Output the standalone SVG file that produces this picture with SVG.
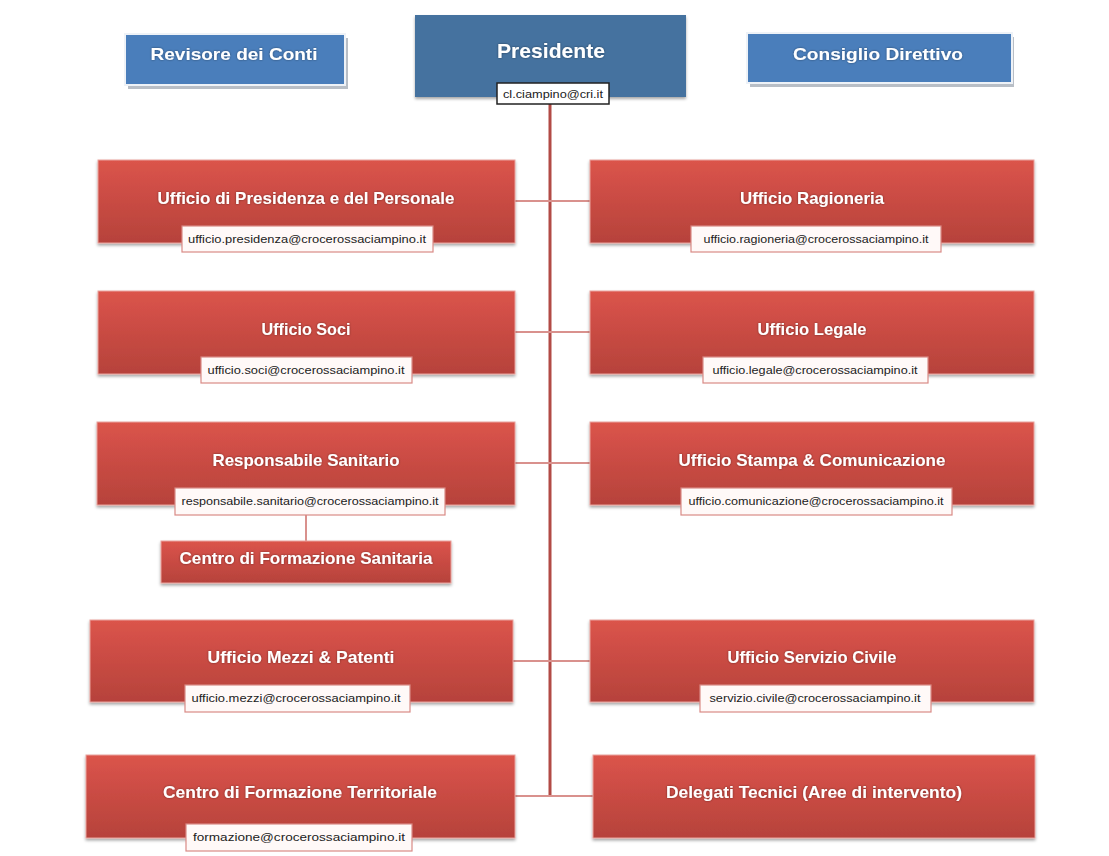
<svg xmlns="http://www.w3.org/2000/svg" width="1109" height="856" viewBox="0 0 1109 856">
<defs>
<linearGradient id="red" x1="0" y1="0" x2="0" y2="1">
<stop offset="0" stop-color="#DB544B"/>
<stop offset="1" stop-color="#B6423B"/>
</linearGradient>
<filter id="sh" x="-5%" y="-10%" width="110%" height="130%">
<feDropShadow dx="0" dy="2" stdDeviation="1.5" flood-color="#000" flood-opacity="0.35"/>
</filter>
<filter id="tsh" x="-5%" y="-20%" width="110%" height="150%">
<feDropShadow dx="0" dy="0" stdDeviation="1.2" flood-color="#000" flood-opacity="0.45"/>
</filter>
</defs>
<style>
.rbox{fill:url(#red);stroke:#E9A39E;stroke-width:1;filter:url(#sh)}
.bbox{fill:#4A7EBB;stroke:#EEF2F7;stroke-width:2}
.pbox{fill:#44729F;filter:url(#sh)}
.ebox{fill:#FFF9F8;stroke:#D98A86;stroke-width:1.2}
.t{font-family:"Liberation Sans",Arial,sans-serif;font-weight:bold;font-size:17px;fill:#FFFFFF;text-anchor:middle;filter:url(#tsh)}
.e{font-family:"Liberation Sans",Arial,sans-serif;font-size:11px;fill:#222;text-anchor:middle}
.main{stroke:#B24A45;stroke-width:3;fill:none}
.br{stroke:#D9918D;stroke-width:2;fill:none}
</style>
<rect width="1109" height="856" fill="#FFFFFF"/>
<g id="connectors">
<line class="main" x1="550" y1="104" x2="550" y2="797"/>
<line class="br" x1="515" y1="201" x2="590" y2="201"/>
<line class="br" x1="515" y1="332" x2="590" y2="332"/>
<line class="br" x1="515" y1="463" x2="590" y2="463"/>
<line class="br" x1="513" y1="661" x2="590" y2="661"/>
<line class="br" x1="515" y1="796" x2="593" y2="796"/>
<line class="br" x1="306" y1="515" x2="306" y2="541"/>
</g>
<g id="revisore">
<rect x="128" y="38" width="220" height="51" fill="#B8BEC6"/>
<rect class="bbox" x="125" y="34" width="220" height="51"/>
<text class="t" x="234" y="60" textLength="167" lengthAdjust="spacingAndGlyphs">Revisore dei Conti</text>
</g>
<g id="consiglio">
<rect x="750" y="37" width="264" height="50" fill="#B8BEC6"/>
<rect class="bbox" x="747" y="33" width="265" height="50"/>
<text class="t" x="878" y="60" textLength="170" lengthAdjust="spacingAndGlyphs">Consiglio Direttivo</text>
</g>
<g id="presidente">
<rect class="pbox" x="415" y="15" width="271" height="82"/>
<text class="t" x="551" y="58" style="font-size:21px" textLength="108" lengthAdjust="spacingAndGlyphs">Presidente</text>
<rect x="497" y="83" width="112" height="21" fill="#FFFFFF" stroke="#222" stroke-width="1.5"/>
<text class="e" x="553" y="98" textLength="100" lengthAdjust="spacingAndGlyphs">cl.ciampino@cri.it</text>
</g>
<g id="presidenza">
<rect class="rbox" x="98" y="160" width="417" height="83"/>
<text class="t" x="306" y="204" textLength="297" lengthAdjust="spacingAndGlyphs">Ufficio di Presidenza e del Personale</text>
<rect class="ebox" x="182" y="226" width="251" height="26"/>
<text class="e" x="307" y="243" textLength="238" lengthAdjust="spacingAndGlyphs">ufficio.presidenza@crocerossaciampino.it</text>
</g>
<g id="ragioneria">
<rect class="rbox" x="590" y="160" width="444" height="83"/>
<text class="t" x="812" y="204" textLength="144" lengthAdjust="spacingAndGlyphs">Ufficio Ragioneria</text>
<rect class="ebox" x="691" y="226" width="250" height="26"/>
<text class="e" x="816" y="243" textLength="225" lengthAdjust="spacingAndGlyphs">ufficio.ragioneria@crocerossaciampino.it</text>
</g>
<g id="soci">
<rect class="rbox" x="98" y="291" width="417" height="83"/>
<text class="t" x="306" y="335" textLength="89" lengthAdjust="spacingAndGlyphs">Ufficio Soci</text>
<rect class="ebox" x="201" y="357" width="211" height="26"/>
<text class="e" x="306" y="374" textLength="197" lengthAdjust="spacingAndGlyphs">ufficio.soci@crocerossaciampino.it</text>
</g>
<g id="legale">
<rect class="rbox" x="590" y="291" width="444" height="83"/>
<text class="t" x="812" y="335" textLength="109" lengthAdjust="spacingAndGlyphs">Ufficio Legale</text>
<rect class="ebox" x="703" y="357" width="225" height="26"/>
<text class="e" x="815" y="374" textLength="205" lengthAdjust="spacingAndGlyphs">ufficio.legale@crocerossaciampino.it</text>
</g>
<g id="sanitario">
<rect class="rbox" x="97" y="422" width="418" height="83"/>
<text class="t" x="306" y="466" textLength="187" lengthAdjust="spacingAndGlyphs">Responsabile Sanitario</text>
<rect class="ebox" x="175" y="488" width="270" height="27"/>
<text class="e" x="310" y="505" textLength="257" lengthAdjust="spacingAndGlyphs">responsabile.sanitario@crocerossaciampino.it</text>
</g>
<g id="comunicazione">
<rect class="rbox" x="590" y="422" width="444" height="83"/>
<text class="t" x="812" y="466" textLength="267" lengthAdjust="spacingAndGlyphs">Ufficio Stampa &amp; Comunicazione</text>
<rect class="ebox" x="681" y="488" width="271" height="27"/>
<text class="e" x="816" y="505" textLength="255" lengthAdjust="spacingAndGlyphs">ufficio.comunicazione@crocerossaciampino.it</text>
</g>
<g id="formazione-sanitaria">
<rect class="rbox" x="161" y="541" width="290" height="42"/>
<text class="t" x="306" y="564" textLength="253" lengthAdjust="spacingAndGlyphs">Centro di Formazione Sanitaria</text>
</g>
<g id="mezzi">
<rect class="rbox" x="90" y="620" width="423" height="82"/>
<text class="t" x="301" y="663" textLength="187" lengthAdjust="spacingAndGlyphs">Ufficio Mezzi &amp; Patenti</text>
<rect class="ebox" x="185" y="685" width="225" height="27"/>
<text class="e" x="296" y="702" textLength="209" lengthAdjust="spacingAndGlyphs">ufficio.mezzi@crocerossaciampino.it</text>
</g>
<g id="servizio-civile">
<rect class="rbox" x="590" y="620" width="444" height="82"/>
<text class="t" x="812" y="663" textLength="169" lengthAdjust="spacingAndGlyphs">Ufficio Servizio Civile</text>
<rect class="ebox" x="700" y="685" width="231" height="27"/>
<text class="e" x="815" y="702" textLength="211" lengthAdjust="spacingAndGlyphs">servizio.civile@crocerossaciampino.it</text>
</g>
<g id="formazione-territoriale">
<rect class="rbox" x="86" y="755" width="429" height="83"/>
<text class="t" x="300" y="798" textLength="274" lengthAdjust="spacingAndGlyphs">Centro di Formazione Territoriale</text>
<rect class="ebox" x="186" y="824" width="226" height="27"/>
<text class="e" x="299" y="841" textLength="212" lengthAdjust="spacingAndGlyphs">formazione@crocerossaciampino.it</text>
</g>
<g id="delegati">
<rect class="rbox" x="593" y="755" width="442" height="83"/>
<text class="t" x="814" y="798" textLength="296" lengthAdjust="spacingAndGlyphs">Delegati Tecnici (Aree di intervento)</text>
</g>
</svg>
